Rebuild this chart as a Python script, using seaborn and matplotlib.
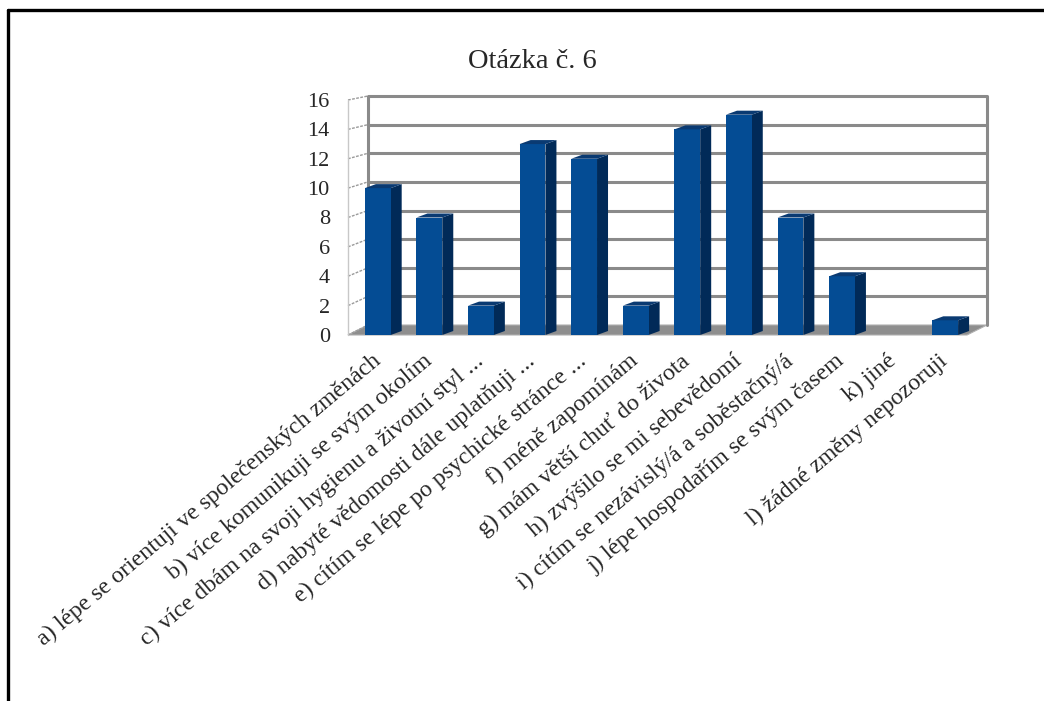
import matplotlib
matplotlib.use("Agg")
import matplotlib.pyplot as plt
from matplotlib.patches import Polygon
from matplotlib.lines import Line2D
import seaborn as sns
import pandas as pd

categories = [
    "a) lépe se orientuji ve společenských změnách",
    "b) více komunikuji se svým okolím",
    "c) více dbám na svoji hygienu a životní styl ...",
    "d) nabyté vědomosti dále uplatňuji ...",
    "e) cítím se lépe po psychické stránce ...",
    "f) méně zapomínám",
    "g) mám větší chuť do života",
    "h) zvýšilo se mi sebevědomí",
    "i) cítím se nezávislý/á a soběstačný/á",
    "j) lépe hospodařím se svým časem",
    "k) jiné",
    "l) žádné změny nepozoruji",
]
values = [10, 8, 2, 13, 12, 2, 14, 15, 8, 4, 0, 1]
yticks = [0, 2, 4, 6, 8, 10, 12, 14, 16]
title = "Otázka č. 6"

sns.set_theme(style="white")
plt.rcParams["font.family"] = ["Liberation Serif", "DejaVu Serif"]

W, H = 1044, 701
fig = plt.figure(figsize=(W / 100, H / 100), dpi=100)
fig.patch.set_facecolor("white")

# axes placement (pixels)
ax_l, ax_r, ax_b, ax_t = 352, 971, 335, 100
ax = fig.add_axes([ax_l / W, (H - ax_b) / H, (ax_r - ax_l) / W, (ax_b - ax_t) / H])
ax.set_facecolor("none")

df = pd.DataFrame({"cat": categories, "val": values})
front = "#044c94"
side = "#012a58"
top = "#0a3a72"
sns.barplot(data=df, x="cat", y="val", color=front, saturation=1, width=0.5,
            ax=ax, zorder=5, edgecolor="none")

ax.set_xlim(-0.5, len(categories) - 0.5)
ax.set_ylim(0, 16)

pxx = (ax_r - ax_l) / len(categories)   # pixels per x unit
pxy = (ax_b - ax_t) / 16.0             # pixels per y unit

def dxu(px):
    return px / pxx

def dyu(px):
    return px / pxy

x0, x1 = -0.5, len(categories) - 0.5
grid_c = "#8a8a8a"
# back plane offset
bdx, bdy = dxu(16), dyu(10)
fdx = dxu(-4)

# floor
floor = Polygon([(x0 + fdx, 0), (x1 + fdx, 0), (x1 + bdx, bdy), (x0 + bdx, bdy)],
                closed=True, facecolor="#8e8e8e", edgecolor="#b0b0b0", lw=0.8,
                zorder=1, clip_on=False)
ax.add_patch(floor)

# back wall gridlines and left wall ticks
for v in yticks:
    yb = v + bdy - dyu(6) * v / 16.0
    if v > 0:
        ax.plot([x0 + bdx, x1 + bdx], [yb, yb], color=grid_c, lw=2.2, zorder=2,
                clip_on=False, solid_capstyle="butt")
    ax.plot([x0 + fdx, x0 + bdx], [v, yb], color="#9a9a9a", lw=1.0, zorder=2,
            clip_on=False, ls=(0, (2, 1)))
ytop = 16 + bdy - dyu(6)
ax.plot([x0 + bdx, x0 + bdx], [bdy, ytop], color=grid_c, lw=2.2, zorder=2, clip_on=False)
ax.plot([x1 + bdx, x1 + bdx], [bdy, ytop], color=grid_c, lw=2.2, zorder=2, clip_on=False)
ax.plot([x0 + fdx, x0 + fdx], [0, 16], color="#c8c8c8", lw=1.0, zorder=2, clip_on=False)

# 3D faces of bars
sdx, sdy = dxu(11), dyu(4)
for p in ax.patches:
    if not hasattr(p, "get_height") or p is floor:
        continue
    h = p.get_height()
    if h <= 0:
        continue
    xl = p.get_x()
    xr = xl + p.get_width()
    ax.add_patch(Polygon([(xr, 0), (xr, h), (xr + sdx, h + sdy), (xr + sdx, sdy)],
                         closed=True, facecolor=side, edgecolor="none", zorder=4))
    ax.add_patch(Polygon([(xl, h), (xr, h), (xr + sdx, h + sdy), (xl + sdx, h + sdy)],
                         closed=True, facecolor=top, edgecolor="none", zorder=6))

for s in ax.spines.values():
    s.set_visible(False)
ax.grid(False)
ax.set_xlabel("")
ax.set_ylabel("")
ax.set_yticks(yticks)
ax.set_yticklabels([str(v) for v in yticks], fontsize=16)
ax.tick_params(axis="y", length=0, pad=16)
ax.set_xticks(range(len(categories)))
ax.set_xticklabels(categories, fontsize=17.2, rotation=40, ha="right",
                   va="center", rotation_mode="anchor")
ax.tick_params(axis="x", length=0, pad=17)

fig.text(532 / W, 1 - 62 / H, title, fontsize=20.5, ha="center", va="center")

# outer frame (top and left)
fig.add_artist(Line2D([8 / W, 1.0], [1 - 10 / H, 1 - 10 / H], color="black", lw=2.4,
                      transform=fig.transFigure))
fig.add_artist(Line2D([8 / W, 8 / W], [1 - 10 / H, 0.0], color="black", lw=2.4,
                      transform=fig.transFigure))

fig.savefig("out.png", dpi=100, facecolor="white")
